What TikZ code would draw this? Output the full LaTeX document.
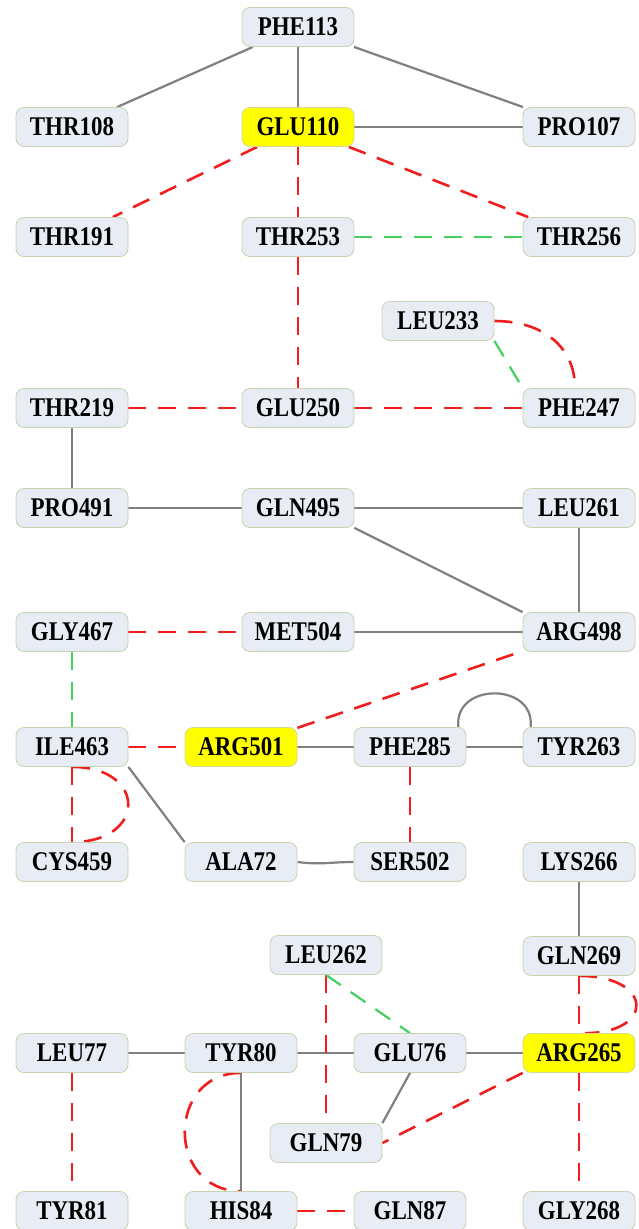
\documentclass[tikz,border=0pt]{standalone}
\usepackage{fontspec}
\setmainfont{Liberation Serif}[FakeStretch=0.85]
\usetikzlibrary{backgrounds}

\definecolor{nodefill}{HTML}{E8EDF5}
\definecolor{nodeedge}{HTML}{C8D2AE}
\definecolor{hubfill}{HTML}{FFFF00}
\definecolor{hubedge}{HTML}{D8D890}
\definecolor{bondgray}{HTML}{808080}
\definecolor{hbred}{HTML}{F01E1E}
\definecolor{hydgreen}{HTML}{44D060}

\tikzset{
  res/.style={draw=nodeedge, fill=nodefill, rounded corners=8pt,
    minimum width=112pt, minimum height=39pt, inner sep=0pt,
    line width=0.8pt, font=\fontsize{27}{27}\selectfont\bfseries,
    text height=17.8pt, text depth=0pt},
  hub/.style={res, draw=hubedge, fill=hubfill},
  bond/.style={draw=bondgray, line width=2.2pt},
  hbond/.style={draw=hbred, line width=2.6pt, dash pattern=on 18pt off 12pt},
  contact/.style={draw=hydgreen, line width=2.2pt, dash pattern=on 18pt off 12pt},
}

\begin{document}
\begin{tikzpicture}[x=1pt, y=-1pt]
\useasboundingbox (0,0) rectangle (638,1229);

% residues
\node[res] (PHE113) at (298,27)   {PHE113};
\node[res] (THR108) at (72,127)   {THR108};
\node[hub] (GLU110) at (298,127)  {GLU110};
\node[res] (PRO107) at (579,127)  {PRO107};
\node[res] (THR191) at (72,237)   {THR191};
\node[res] (THR253) at (298,237)  {THR253};
\node[res] (THR256) at (579,237)  {THR256};
\node[res] (LEU233) at (438,321)  {LEU233};
\node[res] (THR219) at (72,408)   {THR219};
\node[res] (GLU250) at (298,408)  {GLU250};
\node[res] (PHE247) at (579,408)  {PHE247};
\node[res] (PRO491) at (72,508)   {PRO491};
\node[res] (GLN495) at (298,508)  {GLN495};
\node[res] (LEU261) at (579,508)  {LEU261};
\node[res] (GLY467) at (72,632)   {GLY467};
\node[res] (MET504) at (298,632)  {MET504};
\node[res] (ARG498) at (579,632)  {ARG498};
\node[res] (ILE463) at (72,747)   {ILE463};
\node[hub] (ARG501) at (241,747)  {ARG501};
\node[res] (PHE285) at (410,747)  {PHE285};
\node[res] (TYR263) at (579,747)  {TYR263};
\node[res] (CYS459) at (72,862)   {CYS459};
\node[res] (ALA72)  at (241,862)  {ALA72};
\node[res] (SER502) at (410,862)  {SER502};
\node[res] (LYS266) at (579,862)  {LYS266};
\node[res] (LEU262) at (326,955)  {LEU262};
\node[res] (GLN269) at (579,956)  {GLN269};
\node[res] (LEU77)  at (72,1053)  {LEU77};
\node[res] (TYR80)  at (241,1053) {TYR80};
\node[res] (GLU76)  at (410,1053) {GLU76};
\node[hub] (ARG265) at (579,1053) {ARG265};
\node[res] (GLN79)  at (326,1143) {GLN79};
\node[res] (TYR81)  at (72,1211)  {TYR81};
\node[res] (HIS84)  at (241,1211) {HIS84};
\node[res] (GLN87)  at (410,1211) {GLN87};
\node[res] (GLY268) at (579,1211) {GLY268};

\begin{pgfonlayer}{background}
\fill[white] (0,0) rectangle (638,1229);

% solid bonds
\draw[bond] (PHE113) -- (THR108);
\draw[bond] (PHE113) -- (GLU110);
\draw[bond] (PHE113) -- (PRO107);
\draw[bond] (GLU110) -- (PRO107);
\draw[bond] (THR219) -- (PRO491);
\draw[bond] (PRO491) -- (GLN495);
\draw[bond] (GLN495) -- (LEU261);
\draw[bond] (GLN495.south east) -- (ARG498.north west);
\draw[bond] (LEU261) -- (ARG498);
\draw[bond] (MET504) -- (ARG498);
\draw[bond] (ARG501) -- (PHE285);
\draw[bond] (PHE285) -- (TYR263);
\draw[bond] ([xshift=-8pt]PHE285.north east) .. controls +(-5,-45) and +(5,-45) .. ([xshift=8pt]TYR263.north west);
\draw[bond] (ILE463.south east) -- (ALA72.north west);
\draw[bond] (ALA72.east) .. controls +(25,3) and +(-25,0) .. (SER502.west);
\draw[bond] (LYS266) -- (GLN269);
\draw[bond] (LEU77) -- (TYR80);
\draw[bond] (TYR80) -- (GLU76);
\draw[bond] (GLU76) -- (ARG265);
\draw[bond] (TYR80) -- (HIS84);
\draw[bond] (GLU76.south) -- (GLN79.north east);

% hydrogen bonds
\draw[hbond] (GLU110) -- (THR191);
\draw[hbond] (GLU110) -- (THR253);
\draw[hbond] (GLU110) -- (THR256);
\draw[hbond] (THR253) -- (GLU250);
\draw[hbond] (THR219) -- (GLU250);
\draw[hbond] (GLU250) -- (PHE247);
\draw[hbond] (LEU233.east) .. controls +(50,0) and +(0,-40) .. ([xshift=-4pt]PHE247.north);
\draw[hbond] (GLY467) -- (MET504);
\draw[hbond] (ARG501) -- (ARG498);
\draw[hbond] (ILE463) -- (ARG501);
\draw[hbond] (ILE463.south) -- (CYS459.north);
\draw[hbond] (ILE463.south) .. controls +(75,0) and +(75,0) .. (CYS459.north);
\draw[hbond] (PHE285) -- (SER502);
\draw[hbond] (GLN269.south) -- (ARG265.north);
\draw[hbond] (GLN269.south) .. controls +(75,0) and +(70,0) .. ([xshift=6pt]ARG265.north);
\draw[hbond] (ARG265.south) -- (GLY268.north);
\draw[hbond] (LEU77) -- (TYR81);
\draw[hbond] (LEU262.south) -- (GLN79.north);
\draw[hbond] (TYR80.south) .. controls +(-75,0) and +(-75,0) .. (HIS84.north);
\draw[hbond] (HIS84) -- (GLN87);
\draw[hbond] (ARG265.south west) -- (GLN79.east);

% hydrophobic contacts
\draw[contact] (THR253) -- (THR256);
\draw[contact] (LEU233.south east) -- (PHE247.north west);
\draw[contact] (GLY467) -- (ILE463);
\draw[contact] (LEU262.south) -- (GLU76.north);
\end{pgfonlayer}
\end{tikzpicture}
\end{document}
